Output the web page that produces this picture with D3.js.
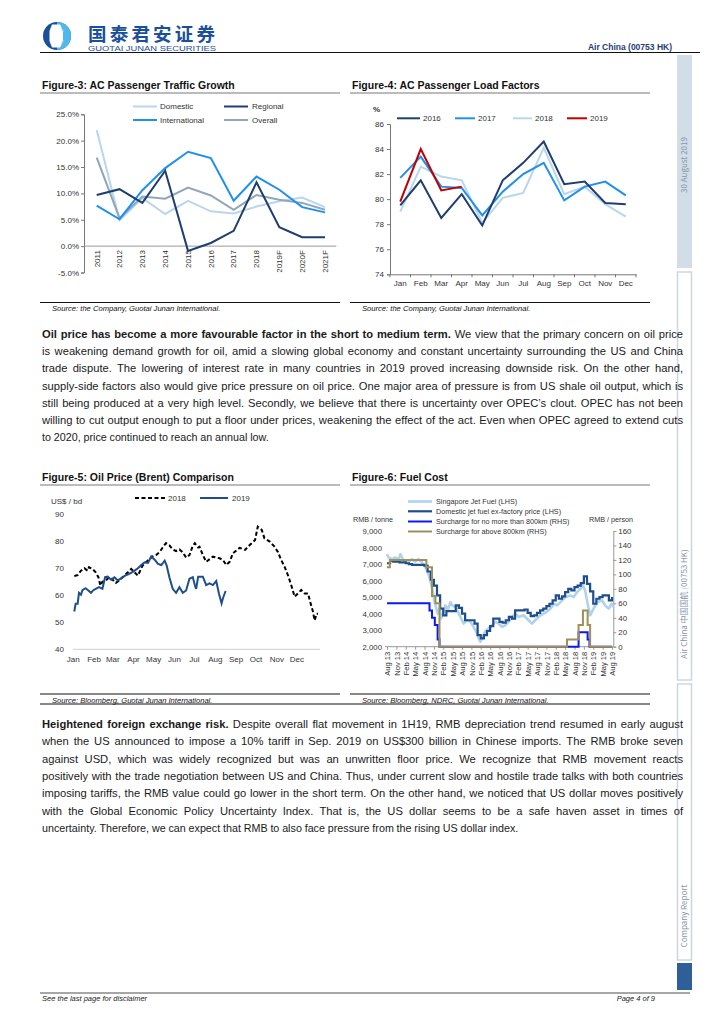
<!DOCTYPE html>
<html><head><meta charset="utf-8">
<script src="https://cdn.jsdelivr.net/npm/d3@7/dist/d3.min.js"></script>
<style>body{margin:0;background:#fff}svg{display:block}</style>
</head><body>
<svg id="page" width="724" height="1024"></svg>
<script>
const FONT = "'Liberation Sans', Arial, Helvetica, sans-serif";
const CJK = "'Noto Sans CJK SC', 'Liberation Sans', sans-serif";

// ---------- Figure-3 data ----------
const f3Years = ["2011","2012","2013","2014","2015","2016","2017","2018","2019F","2020F","2021F"];
const f3Domestic = [22.0,4.9,9.1,6.1,8.6,6.6,6.2,7.5,8.5,9.2,7.4];
const f3Regional = [9.7,10.8,8.2,14.3,-0.9,0.6,2.9,12.1,3.6,1.7,1.7];
const f3International = [7.7,5.1,10.6,14.8,17.9,16.7,8.6,13.2,10.7,7.4,6.4];
const f3Overall = [16.8,5.3,9.4,9.0,11.1,9.6,6.9,9.7,8.8,8.2,6.9];
const f3Ticks = [-5,0,5,10,15,20,25];

// ---------- Figure-4 data ----------
const f4Months = ["Jan","Feb","Mar","Apr","May","Jun","Jul","Aug","Sep","Oct","Nov","Dec"];
const f4Y2016 = [79.5,81.5,78.5,80.4,77.9,81.5,82.9,84.6,81.2,81.4,79.7,79.6];
const f4Y2017 = [81.7,83.4,81.0,80.9,78.7,80.6,82.0,82.9,79.9,81.0,81.4,80.3];
const f4Y2018 = [79.0,82.6,81.8,81.5,78.1,80.1,80.5,84.1,80.4,81.0,79.6,78.6];
const f4Y2019 = [79.8,84.0,80.7,81.0];
const f4Ticks = [74,76,78,80,82,84,86];

// ---------- Figure-5 data (day of year, US$/bbl) ----------
const f5Brent2018 = [[1,67.1],[6,67.5],[11,69.1],[16,70.0],[21,69.1],[23.5,70.4],[28,69.8],[33.5,68.5],[37,66.7],[40,63.6],[43,65.0],[48.5,65.5],[53.5,66.7],[58,65.8],[63.5,64.6],[68.5,65.5],[73,66.7],[81,68.5],[86,69.8],[91,68.5],[96,67.3],[103,71.0],[108,72.2],[113,73.4],[118,74.4],[123,74.9],[128,75.9],[133,77.7],[138,79.3],[143,78.5],[148,77.0],[153,76.4],[158,77.0],[163,75.9],[168,74.0],[173,74.9],[178,78.3],[181,79.3],[186,77.7],[188,78.0],[193,74.9],[198,72.4],[208,74.3],[218,73.7],[223,73.1],[228,71.2],[233,72.4],[238,75.6],[248,77.6],[256,76.8],[263,78.6],[271,80.5],[275,85.4],[281,84.2],[285,81.1],[293,79.9],[300,78.0],[305,76.1],[310,73.1],[315,70.6],[320,67.5],[325,63.8],[330,59.5],[335,60.7],[340,62.0],[345,60.7],[350,60.7],[354,57.0],[357,54.4],[360,50.7],[363,53.2],[365,53.2]];
const f5Brent2019 = [[1,54.0],[3.5,56.9],[6,56.9],[8.5,60.9],[11,60.2],[13.5,61.8],[16,62.4],[18.5,62.6],[22.5,61.8],[26,60.9],[29.5,61.8],[33.5,62.4],[38.5,63.0],[43.5,62.4],[47.5,66.7],[51,66.9],[56,65.8],[61,66.7],[66,65.5],[71,66.3],[77.5,67.3],[83.5,67.9],[89.5,68.8],[96,70.0],[101,71.2],[106,72.2],[111,72.0],[116,74.4],[121,73.2],[126,71.6],[131,71.2],[136,72.8],[139,71.0],[143,66.7],[148,62.4],[153,60.9],[158,63.0],[163,60.9],[168,61.8],[173,66.1],[178,66.7],[181,63.8],[183.5,62.4],[186,66.9],[193,66.9],[198,63.8],[203,64.4],[208,63.8],[213,65.3],[217,60.7],[221,57.0],[223,58.9],[227,61.6]];
const f5Ticks = [40,50,60,70,80,90];

// ---------- Figure-6 data (month index from Aug-2013) ----------
const f6QuarterLabels = ["Aug 13","Nov 13","Feb 14","May 14","Aug 14","Nov 14","Feb 15","May 15","Aug 15","Nov 15","Feb 16","May 16","Aug 16","Nov 16","Feb 17","May 17","Aug 17","Nov 17","Feb 18","May 18","Aug 18","Nov 18","Feb 19","May 19","Aug 19"];
const f6Domestic = [7050,7200,7150,7150,7100,7100,7050,7000,6950,6950,6950,6950,6900,6550,6050,5700,5100,4300,3900,4150,4150,4150,4500,4350,4000,3600,3600,3600,3400,2700,2500,2700,2950,3250,3700,3700,3500,3450,3600,3800,3700,4200,4200,4200,4250,4050,3850,3900,4050,4200,4300,4450,4600,4800,5100,4900,5050,5300,5500,5400,5600,5700,5850,6250,5800,5350,4600,4900,5000,5100,5100,4800,5000];
const f6Singapore = [[0,7600],[0.5,7400],[1.6,7300],[2.6,7400],[3.7,7300],[4.3,7600],[5.3,7200],[6.9,7100],[8.0,7300],[9.1,7150],[10.1,7300],[11.2,7100],[12.3,6800],[13.0,6500],[13.6,6200],[14.1,5800],[14.7,5300],[15.1,4800],[15.8,4300],[16.2,4000],[16.8,4300],[17.3,3700],[17.9,4000],[18.7,4500],[19.4,4200],[20.3,4700],[20.8,4500],[21.9,4400],[22.4,4200],[23.5,3800],[24.5,3400],[25.6,3600],[26.7,3500],[27.7,3200],[28.6,2900],[29.3,2500],[29.9,2300],[30.7,2600],[31.5,2950],[32.5,3100],[33.6,3300],[34.7,3500],[35.7,3400],[36.8,3200],[37.9,3300],[38.9,3500],[40.0,3800],[41.1,4000],[42.1,3800],[43.7,3900],[45.3,3600],[46.4,3400],[47.4,3600],[49.1,3900],[50.7,4060],[52.3,4300],[53.4,4600],[54.4,4500],[55.5,4700],[57.1,5000],[58.7,5100],[59.7,5000],[60.8,5300],[61.9,5500],[62.7,5700],[63.4,5400],[64.2,4600],[65.0,3900],[66.1,4300],[67.2,4700],[68.8,4800],[69.8,4500],[70.9,4300],[71.9,4600],[72.5,4400]];
const f6Sur800 = [[0,60],[13.6,50],[14.4,40],[15.3,30],[16.2,10],[16.8,0],[61.3,20],[64.2,10],[64.8,0],[72,0]];
const f6SurAbove = [[0,110],[0.9,120],[12.6,110],[14.4,70],[15.5,60],[16.8,0],[57.6,10],[61.3,30],[62.7,50],[64.2,30],[65,0],[72,0]];
const f6LeftTicks = [2000,3000,4000,5000,6000,7000,8000,9000];
const f6RightTicks = [0,20,40,60,80,100,120,140,160];

// ---------- Text ----------
const para1 = [
  {segs:[{t:"Oil price has become a more favourable factor in the short to medium term.",b:1},{t:"We view that the primary concern on oil price"}]},
  {segs:[{t:"is weakening demand growth for oil, amid a slowing global economy and constant uncertainty surrounding the US and China"}]},
  {segs:[{t:"trade dispute. The lowering of interest rate in many countries in 2019 proved increasing downside risk. On the other hand,"}]},
  {segs:[{t:"supply-side factors also would give price pressure on oil price. One major area of pressure is from US shale oil output, which is"}]},
  {segs:[{t:"still being produced at a very high level. Secondly, we believe that there is uncertainty over OPEC’s clout. OPEC has not been"}]},
  {segs:[{t:"willing to cut output enough to put a floor under prices, weakening the effect of the act. Even when OPEC agreed to extend cuts"}]},
  {segs:[{t:"to 2020, price continued to reach an annual low."}],last:1}
];
const para2 = [
  {segs:[{t:"Heightened foreign exchange risk.",b:1},{t:"Despite overall flat movement in 1H19, RMB depreciation trend resumed in early august"}]},
  {segs:[{t:"when the US announced to impose a 10% tariff in Sep. 2019 on US$300 billion in Chinese imports. The RMB broke seven"}]},
  {segs:[{t:"against USD, which was widely recognized but was an unwritten floor price. We recognize that RMB movement reacts"}]},
  {segs:[{t:"positively with the trade negotiation between US and China. Thus, under current slow and hostile trade talks with both countries"}]},
  {segs:[{t:"imposing tariffs, the RMB value could go lower in the short term. On the other hand, we noticed that US dollar moves positively"}]},
  {segs:[{t:"with the Global Economic Policy Uncertainty Index. That is, the US dollar seems to be a safe haven asset in times of"}]},
  {segs:[{t:"uncertainty. Therefore, we can expect that RMB to also face pressure from the rising US dollar index."}],last:1}
];

const svg = d3.select("#page").attr("font-family", FONT);
svg.append("rect").attr("width",724).attr("height",1024).attr("fill","#fff");

// ---------- Header ----------
const logo = svg.append("g");
logo.append("circle").attr("cx",57).attr("cy",36).attr("r",14).attr("fill","#1b4f9a");
logo.append("path").attr("d","M57,22 A14,14 0 0,1 57,50 Z").attr("fill","#4fb9ee");
logo.append("path").attr("d","M52,24.5 L60,24.5 L63.5,31 L63.5,41 L60,47.5 L52,47.5 L49.5,41 L49.5,31 Z").attr("fill","#fff");
logo.append("path").attr("d","M60.5,27 L63,31.5 L63,40.5 L60.5,45 A12,12 0 0,0 60.5,27 Z").attr("fill","#4fb9ee");
svg.append("text").attr("x",88).attr("y",40.5).attr("font-family",CJK).attr("font-size",18.5).attr("font-weight","bold").attr("fill","#1b4f9a").attr("textLength",127).text("国泰君安证券");
svg.append("text").attr("x",88).attr("y",51).attr("font-size",7.2).attr("fill","#1b4f9a").attr("textLength",128).attr("lengthAdjust","spacingAndGlyphs").text("GUOTAI JUNAN SECURITIES");
svg.append("text").attr("x",672).attr("y",50).attr("text-anchor","end").attr("font-size",8.5).attr("font-weight","bold").attr("fill","#1f3d7a").text("Air China (00753 HK)");
svg.append("line").attr("x1",40).attr("x2",700).attr("y1",52.5).attr("y2",52.5).attr("stroke","#111").attr("stroke-width",1.2);

// ---------- Sidebar ----------
const side = svg.append("g");
side.append("rect").attr("x",677).attr("y",55).attr("width",15).attr("height",213).attr("fill","#d2dde7");
side.append("rect").attr("x",677.5).attr("y",272).attr("width",14).attr("height",408).attr("fill","#fff").attr("stroke","#cad7e2").attr("stroke-width",1.5);
side.append("rect").attr("x",677.5).attr("y",684).attr("width",14).attr("height",276).attr("fill","#fff").attr("stroke","#cad7e2").attr("stroke-width",1.5);
side.append("rect").attr("x",677).attr("y",963).attr("width",15).attr("height",27).attr("fill","#2e5f98");
function vtext(t, cx, cy){ side.append("text").attr("transform",`translate(${cx},${cy}) rotate(-90)`).attr("text-anchor","middle").attr("dy","0.35em").attr("font-size",8).attr("font-family",CJK).attr("fill","#8596aa").text(t); }
vtext("30 August 2019",684.5,165);
vtext("Air China 中国国航 (00753 HK)",684.5,604);
vtext("Company Report",684.5,916);

// ---------- Footer ----------
svg.append("line").attr("x1",40).attr("x2",690).attr("y1",993).attr("y2",993).attr("stroke","#222").attr("stroke-width",0.8);
svg.append("text").attr("x",42).attr("y",1001).attr("font-size",7.5).attr("font-style","italic").attr("fill","#222").text("See the last page for disclaimer");
svg.append("text").attr("x",655).attr("y",1001).attr("text-anchor","end").attr("font-size",7.5).attr("font-style","italic").attr("fill","#222").text("Page 4 of 9");

// ---------- Figure frames ----------
function frame(title, x0, x1, ty, source, sy){
  svg.append("text").attr("x",x0+2).attr("y",ty).attr("font-size",10.5).attr("font-weight","bold").attr("fill","#111").text(title);
  svg.append("line").attr("x1",x0).attr("x2",x1).attr("y1",ty+4).attr("y2",ty+4).attr("stroke","#555").attr("stroke-width",0.8);
  svg.append("line").attr("x1",x0).attr("x2",x1).attr("y1",sy).attr("y2",sy).attr("stroke","#111").attr("stroke-width",1);
  svg.append("text").attr("x",x0+12).attr("y",sy+8.5).attr("font-size",7.6).attr("font-style","italic").attr("fill","#111").text(source);
}
frame("Figure-3: AC Passenger Traffic Growth",40,340,89,"Source: the Company, Guotai Junan International.",302.5);
frame("Figure-4: AC Passenger Load Factors",350,650,89,"Source: the Company, Guotai Junan International.",302.5);
frame("Figure-5: Oil Price (Brent) Comparison",40,340,481,"Source: Bloomberg, Guotai Junan International.",694);
frame("Figure-6: Fuel Cost",350,650,481,"Source: Bloomberg, NDRC, Guotai Junan International.",694);
svg.append("line").attr("x1",40).attr("x2",650).attr("y1",704).attr("y2",704).attr("stroke","#111").attr("stroke-width",1);

function styleAxis(g, color){
  g.selectAll("text").attr("font-family",FONT).attr("fill","#333");
  g.selectAll("line").attr("stroke",color);
  g.select(".domain").attr("stroke",color);
}
function legendLine(x1,x2,y,color,w,dash){
  const l = svg.append("line").attr("x1",x1).attr("x2",x2).attr("y1",y).attr("y2",y).attr("stroke",color).attr("stroke-width",w);
  if(dash) l.attr("stroke-dasharray",dash);
}
function legendText(x,y,t,size){ svg.append("text").attr("x",x).attr("y",y).attr("dy","0.35em").attr("font-size",size||8).attr("fill","#333").text(t); }

// ---------- Figure-3 ----------
{
  const x = d3.scaleBand().domain(f3Years).range([85.3,336.4]);
  const y = d3.scaleLinear().domain([-5,25]).range([272.5,114.3]);
  const ya = svg.append("g").attr("transform","translate(84,0)").call(d3.axisLeft(y).tickValues(f3Ticks).tickFormat(d=>d.toFixed(1)+"%").tickSize(3).tickPadding(2));
  ya.attr("font-size",8); styleAxis(ya,"#777");
  const xa = svg.append("g").attr("transform",`translate(0,${y(0)})`).call(d3.axisBottom(x).tickSize(0));
  xa.attr("font-size",8); styleAxis(xa,"#999");
  xa.select(".domain").attr("d",`M84,0H336.4`);
  xa.selectAll("text").attr("transform","rotate(-90)").attr("text-anchor","end").attr("x",-4).attr("y",0).attr("dy","0.35em");
  const cx = d => x(d)+x.bandwidth()/2;
  const series = [[f3Domestic,"#b9d6ee"],[f3Overall,"#8fa7b7"],[f3International,"#1f8ff0"],[f3Regional,"#1f3e70"]];
  series.forEach(([vals,c])=>{
    svg.append("path").datum(vals).attr("fill","none").attr("stroke",c).attr("stroke-width",2)
      .attr("d", d3.line().x((d,i)=>cx(f3Years[i])).y(d=>y(d)));
  });
  legendLine(133,157,106.5,"#b9d6ee",2); legendText(160,106.5,"Domestic");
  legendLine(224,248,106.5,"#1f3e70",2); legendText(252,106.5,"Regional");
  legendLine(133,157,120,"#1f8ff0",2); legendText(160,120,"International");
  legendLine(224,248,120,"#8fa7b7",2); legendText(252,120,"Overall");
}

// ---------- Figure-4 ----------
{
  const x = d3.scaleBand().domain(f4Months).range([390,636]);
  const y = d3.scaleLinear().domain([74,86]).range([274.3,124]);
  const ya = svg.append("g").attr("transform","translate(390,0)").call(d3.axisLeft(y).tickValues(f4Ticks).tickSize(3).tickPadding(3));
  ya.attr("font-size",8); styleAxis(ya,"#777");
  const xa = svg.append("g").attr("transform",`translate(0,${y(74)})`).call(d3.axisBottom(x).tickSize(0).tickPadding(6));
  xa.attr("font-size",8); styleAxis(xa,"#777");
  xa.selectAll(".bt").data(f4Months.concat(["end"])).enter().append("line").attr("class","bt")
    .attr("x1",(d,i)=> i<12 ? x(d) : x.range()[1]).attr("x2",(d,i)=> i<12 ? x(d) : x.range()[1]).attr("y1",0).attr("y2",3).attr("stroke","#777");
  svg.append("text").attr("x",373).attr("y",112).attr("font-size",8).attr("font-weight","bold").attr("fill","#333").text("%");
  const cx = d => x(d)+x.bandwidth()/2;
  const series = [[f4Y2018,"#b9d6ee"],[f4Y2017,"#1f8ff0"],[f4Y2016,"#1f3e70"],[f4Y2019,"#c00000"]];
  series.forEach(([vals,c])=>{
    svg.append("path").datum(vals).attr("fill","none").attr("stroke",c).attr("stroke-width",2)
      .attr("d", d3.line().x((d,i)=>cx(f4Months[i])).y(d=>y(d)));
  });
  legendLine(397,420,118.3,"#1f3e70",2); legendText(423,118.3,"2016");
  legendLine(455,475,118.3,"#1f8ff0",2); legendText(478,118.3,"2017");
  legendLine(513,532,118.3,"#b9d6ee",2); legendText(535,118.3,"2018");
  legendLine(567,587,118.3,"#c00000",2); legendText(590,118.3,"2019");
}

// ---------- Figure-5 ----------
{
  const day = d => new Date(2018,0,d);
  const x = d3.scaleTime().domain([new Date(2018,0,1), new Date(2018,11,31)]).range([74.3,318]);
  const y = d3.scaleLinear().domain([40,90]).range([649.3,514.3]);
  const ya = svg.append("g").attr("transform","translate(68,0)").call(d3.axisLeft(y).tickValues(f5Ticks).tickSize(0).tickPadding(4));
  ya.attr("font-size",8); styleAxis(ya,"#fff"); ya.select(".domain").remove();
  const xa = svg.append("g").attr("transform",`translate(0,${y(40)})`).call(d3.axisBottom(x).ticks(d3.timeMonth.every(1)).tickFormat(d3.timeFormat("%b")).tickSize(0).tickPadding(7));
  xa.attr("font-size",8); styleAxis(xa,"#d0d0d0");
  xa.select(".domain").attr("d","M73,0H320");
  xa.selectAll("text").attr("dx",-1.5);
  svg.append("path").datum(f5Brent2018).attr("fill","none").attr("stroke","#000").attr("stroke-width",2).attr("stroke-dasharray","4,2.5")
    .attr("d", d3.line().x(d=>x(day(d[0]))).y(d=>y(d[1])));
  svg.append("path").datum(f5Brent2019).attr("fill","none").attr("stroke","#1f4e8c").attr("stroke-width",2)
    .attr("d", d3.line().x(d=>x(day(d[0]))).y(d=>y(d[1])));
  svg.append("text").attr("x",51).attr("y",500.7).attr("dy","0.35em").attr("font-size",8).attr("fill","#333").text("US$ / bd");
  legendLine(135,165,498,"#000",2,"4,2.5"); legendText(168,498,"2018");
  legendLine(200,228,498,"#1f4e8c",2); legendText(232,498,"2019");
}

// ---------- Figure-6 ----------
{
  const x = d3.scaleLinear().domain([0,72]).range([387,612]);
  const yl = d3.scaleLinear().domain([2000,9000]).range([646.7,531]);
  const yr = d3.scaleLinear().domain([0,160]).range([646.7,531]);
  const fmt = d3.format(",");
  const yla = svg.append("g").attr("transform","translate(385,0)").call(d3.axisLeft(yl).tickValues(f6LeftTicks).tickFormat(fmt).tickSize(0).tickPadding(3));
  yla.attr("font-size",7.8); styleAxis(yla,"#fff"); yla.select(".domain").remove();
  const yra = svg.append("g").attr("transform","translate(613.3,0)").call(d3.axisRight(yr).tickValues(f6RightTicks).tickSize(3).tickPadding(2));
  yra.attr("font-size",7.8); styleAxis(yra,"#999");
  const qIdx = f6QuarterLabels.map((d,i)=>i*3);
  const xa = svg.append("g").attr("transform",`translate(0,${yl(2000)})`).call(d3.axisBottom(x).tickValues(qIdx).tickFormat((d,i)=>f6QuarterLabels[i]).tickSize(3));
  xa.attr("font-size",7.6); styleAxis(xa,"#999");
  xa.select(".domain").attr("d","M385,0H613.3");
  xa.selectAll("text").attr("transform","rotate(-90)").attr("text-anchor","end").attr("x",-5).attr("y",0).attr("dy","0.35em");
  svg.append("path").datum(f6Singapore).attr("fill","none").attr("stroke","#aed2f0").attr("stroke-width",2.6).attr("stroke-linejoin","round")
    .attr("d", d3.line().x(d=>x(d[0])).y(d=>yl(d[1])));
  svg.append("path").datum(f6Domestic).attr("fill","none").attr("stroke","#1f4e8c").attr("stroke-width",2.2)
    .attr("d", d3.line().curve(d3.curveStepAfter).x((d,i)=>x(i)).y(d=>yl(d)));
  svg.append("path").datum(f6Sur800).attr("fill","none").attr("stroke","#0a1af0").attr("stroke-width",2)
    .attr("d", d3.line().curve(d3.curveStepAfter).x(d=>x(d[0])).y(d=>yr(d[1])));
  svg.append("path").datum(f6SurAbove).attr("fill","none").attr("stroke","#a08f58").attr("stroke-width",2)
    .attr("d", d3.line().curve(d3.curveStepAfter).x(d=>x(d[0])).y(d=>yr(d[1])));
  svg.append("text").attr("x",353).attr("y",519).attr("dy","0.35em").attr("font-size",7.2).attr("fill","#333").text("RMB / tonne");
  svg.append("text").attr("x",633).attr("y",519).attr("dy","0.35em").attr("text-anchor","end").attr("font-size",7.2).attr("fill","#333").text("RMB / person");
  legendLine(408,432,501.5,"#aed2f0",2.6); legendText(436,501.5,"Singapore Jet Fuel (LHS)",7.2);
  legendLine(408,432,511.3,"#1f4e8c",2.2); legendText(436,511.3,"Domestic jet fuel ex-factory price (LHS)",7.2);
  legendLine(408,432,521.5,"#0a1af0",2); legendText(436,521.5,"Surcharge for no more than 800km (RHS)",7.2);
  legendLine(408,432,531.5,"#a08f58",2); legendText(436,531.5,"Surcharge for above 800km (RHS)",7.2);
}

// ---------- Paragraphs (justified) ----------
function paragraph(lines, x0, x1, y0, lh, size){
  const W = x1-x0;
  lines.forEach((ln,i)=>{
    const y = y0 + i*lh;
    const g = svg.append("g");
    const words = [];
    ln.segs.forEach(s=>s.t.split(" ").filter(w=>w).forEach(w=>words.push({t:w,b:s.b})));
    const els = words.map(w=>g.append("text").attr("y",y).attr("font-size",size).attr("fill","#1a1a1a").attr("font-weight",w.b?"bold":"normal").text(w.t));
    const ws = els.map(e=>e.node().getComputedTextLength());
    const sum = d3.sum(ws);
    let gap = ln.last ? size*0.26 : (W-sum)/(words.length-1);
    let s = 1;
    const minGap = size*0.22;
    if(!ln.last && gap < minGap){ s = W/(sum + minGap*(words.length-1)); gap = minGap; }
    if(ln.last){ s = 0.96; }
    let xx = 0;
    els.forEach((e,j)=>{ e.attr("x",xx); xx += ws[j]+gap; });
    g.attr("transform",`translate(${x0},0) scale(${s},1)`);
  });
}
paragraph(para1, 42, 683, 338, 17.2, 11.2);
paragraph(para2, 42, 683, 728, 17.33, 11.2);
</script>
</body></html>
